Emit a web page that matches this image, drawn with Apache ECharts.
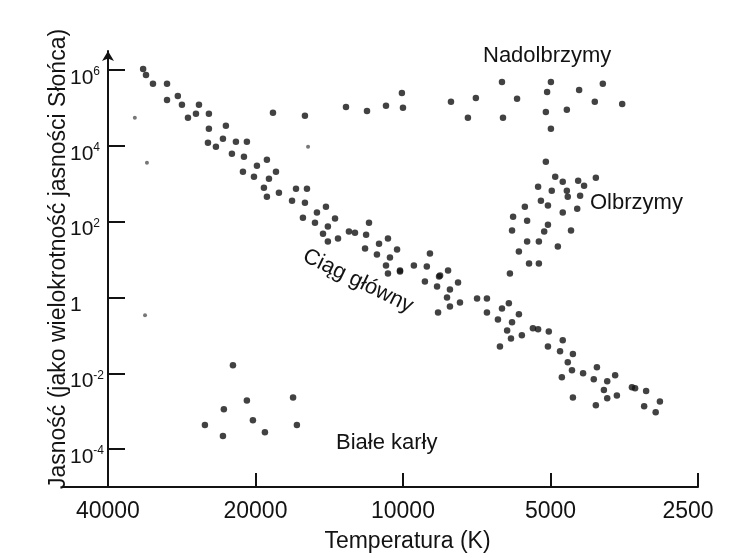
<!DOCTYPE html>
<html>
<head>
<meta charset="utf-8">
<script src="https://cdn.jsdelivr.net/npm/echarts@6/dist/echarts.min.js"></script>
<style>
html,body{margin:0;padding:0;background:#fff;}
#chart{width:729px;height:558px;}
</style>
</head>
<body>
<div id="chart"></div>
<script>
// [temperature K, luminosity (L_sun)]
const mainSequence = [
  [33900,1.06e6],[33450,7.4e5],[32370,4.3e5],[30300,4.3e5],[28800,2.07e5],[30300,1.62e5],
  [28250,1.2e5],[26080,1.2e5],[26450,6.95e4],[24890,6.95e4],[27460,5.5e4],[24890,2.8e4],
  [22980,3.36e4],[23300,1.53e4],[25000,1.2e4],[24080,9.4e3],[21920,1.27e4],[20820,1.27e4],
  [22340,6.2e3],[21110,5.1e3],[21210,2.07e3],[18950,4.3e3],[19860,2.98e3],[18160,2.07e3],
  [20140,1.53e3],[18770,1.35e3],[19220,785],[17910,580],[18950,455],[16530,739],[15700,739],
  [16840,357],[15850,316],[14360,248],[14980,173],[16000,127],[13760,120],[15120,94],
  [14230,74],[11730,94],[14560,48],[12890,55],[12530,51],[11890,45],[13570,36],[14230,30],
  [10730,36],[11190,26],[10280,18.3],[11950,19.5],[11300,13.5],[10630,11.3],[8810,14.4],
  [10830,6.95],[10140,5.1],[9500,6.95],[8940,6.5],[8090,5.1],[8440,3.57],[10730,4.3],
  [10140,4.8],[9020,2.64],[8400,3.8],[8520,1.95],[7720,2.48],[8020,1.62],[8130,1.0],
  [7650,0.74],[8020,0.58],[8480,0.40],[7060,0.94],[6740,0.94],[6740,0.40],[6280,0.51],
  [6080,0.70],[5800,0.36],[6400,0.26],[5990,0.22],[6130,0.135],[5720,0.10],[6020,0.083],
  [6340,0.051],[5430,0.153],[5300,0.144],[5040,0.127],[4720,0.074],[5060,0.051],[4780,0.038],
  [4500,0.032],[4610,0.0195],[4520,0.012],[4740,0.0079],[4020,0.0144],[4290,0.010],
  [4080,0.0070],[3830,0.0062],[3690,0.0089],[3890,0.0036],[3830,0.0022],[3660,0.0026],
  [4040,0.00144],[4500,0.0023],[3410,0.0043],[3360,0.0040],[3190,0.0034],[2990,0.0018],
  [3220,0.00135],[3050,0.00094]
];
const giants = [
  [5110,3.8e3],[4890,1.53e3],[4720,1.13e3],[4390,1.2e3],[4040,1.44e3],[4270,885],[5300,834],
  [4970,655],[4630,655],[4350,483],[4610,455],[5230,357],[5060,264],[5640,248],[4410,220],
  [4720,173],[5960,135],[5580,106],[5060,83],[5990,58],[5150,55],[4540,58],[5580,30],
  [5280,30],[4830,22],[5800,16.2],[5530,7.85],[5280,7.85],[6050,4.3]
];
const supergiants = [
  [18420,7.4e4],[15850,6.15e4],[13070,1.06e5],[11840,8.3e4],[10830,1.13e5],[10050,2.48e5],
  [10000,1.0e5],[7980,1.44e5],[7100,1.83e5],[7370,5.5e4],[6280,4.8e5],[4990,4.8e5],
  [5080,2.64e5],[4370,2.98e5],[3910,4.3e5],[5850,1.73e5],[4060,1.44e5],[3570,1.27e5],
  [5110,7.8e4],[4630,8.9e4],[6250,5.5e4],[4990,2.8e4]
];
const whiteDwarfs = [
  [22230,0.0163],[20820,0.0019],[23200,0.00113],[25360,0.00043],[23300,0.00022],
  [20240,0.00058],[19130,0.00028],[16760,0.0023],[16460,0.00043]
];
const faintStars = [[35250,5.5e4],[33300,3.57e3],[33600,0.34],[15620,9.4e3]];

const xTicks = [40000, 20000, 10000, 5000, 2500];
const yTicks = [1e-4, 1e-2, 1, 1e2, 1e4, 1e6];
const xRange = [2500, 49400];
const yRange = [1e-5, Math.pow(10, 6.5)];

const INK = '#131313';
const FONT = '"Liberation Sans", Arial, sans-serif';

function dots(name, data, size, color) {
  return { name: name, type: 'scatter', data: data, symbolSize: size,
           itemStyle: { color: color }, silent: true };
}

const chart = echarts.init(document.getElementById('chart'), null, { renderer: 'canvas' });
chart.setOption({
  backgroundColor: '#ffffff',
  animation: false,
  grid: { left: 63, right: 31, top: 51, bottom: 70, containLabel: false },
  xAxis: {
    type: 'log', logBase: 10, inverse: true, min: xRange[0], max: xRange[1],
    name: 'Temperatura (K)', nameLocation: 'middle', nameGap: 43, nameMoveOverlap: false,
    nameTextStyle: { fontFamily: FONT, fontSize: 23, color: INK, padding: [0, 0, 0, 54] },
    axisLine: { lineStyle: { color: INK, width: 2 } },
    axisTick: { inside: true, length: 14, customValues: xTicks, lineStyle: { color: INK, width: 2 } },
    axisLabel: { customValues: xTicks, fontFamily: FONT, fontSize: 23, color: INK, margin: 13,
                 formatter: function (v) {
                   const s = String(Math.round(v));
                   return s === '2500' ? '{r|' + s + '}' : s;
                 },
                 rich: { r: { fontFamily: FONT, fontSize: 23, color: INK, padding: [0, 20, 0, 0] } } },
    splitLine: { show: false }, minorTick: { show: false }
  },
  yAxis: {
    type: 'log', logBase: 10, min: yRange[0], max: yRange[1], offset: -45,
    name: 'Jasność (jako wielokrotność jasności Słońca)', nameLocation: 'middle', nameGap: 38,
    nameMoveOverlap: false,
    nameTextStyle: { fontFamily: FONT, fontSize: 23, color: INK, padding: [0, 0, 0, 20] },
    axisLine: { symbol: ['none', 'arrow'], symbolSize: [9, 10], lineStyle: { color: INK, width: 2 } },
    axisTick: { inside: true, length: 17, customValues: yTicks, lineStyle: { color: INK, width: 2 } },
    axisLabel: {
      customValues: yTicks, align: 'left', margin: 38, padding: [16, 0, 0, 0],
      formatter: function (v) {
        const e = Math.round(Math.log10(v));
        if (e === 0) return '{b|1}';
        return '{b|10}{e|' + e + '}';
      },
      rich: {
        b: { fontFamily: FONT, fontSize: 21, color: INK, lineHeight: 24 },
        e: { fontFamily: FONT, fontSize: 12, color: INK, verticalAlign: 'top', lineHeight: 12 }
      }
    },
    splitLine: { show: false }, minorTick: { show: false }
  },
  graphic: [
    { type: 'text', x: 483, y: 56, silent: true,
      style: { text: 'Nadolbrzymy', font: '22px ' + FONT, fill: INK, verticalAlign: 'middle' } },
    { type: 'text', x: 590, y: 203, silent: true,
      style: { text: 'Olbrzymy', font: '22px ' + FONT, fill: INK, verticalAlign: 'middle' } },
    { type: 'text', x: 358, y: 281, rotation: -26 * Math.PI / 180, silent: true,
      style: { text: 'Ciąg główny', font: '22px ' + FONT, fill: INK, align: 'center', verticalAlign: 'middle' } },
    { type: 'text', x: 336, y: 443, silent: true,
      style: { text: 'Białe karły', font: '22px ' + FONT, fill: INK, verticalAlign: 'middle' } }
  ],
  series: [
    dots('Ciąg główny', mainSequence, 6.5, INK),
    dots('Olbrzymy', giants, 6.5, INK),
    dots('Nadolbrzymy', supergiants, 6.5, INK),
    dots('Białe karły', whiteDwarfs, 6.5, INK),
    dots('inne', faintStars, 4, '#555')
  ]
});
</script>
</body>
</html>
